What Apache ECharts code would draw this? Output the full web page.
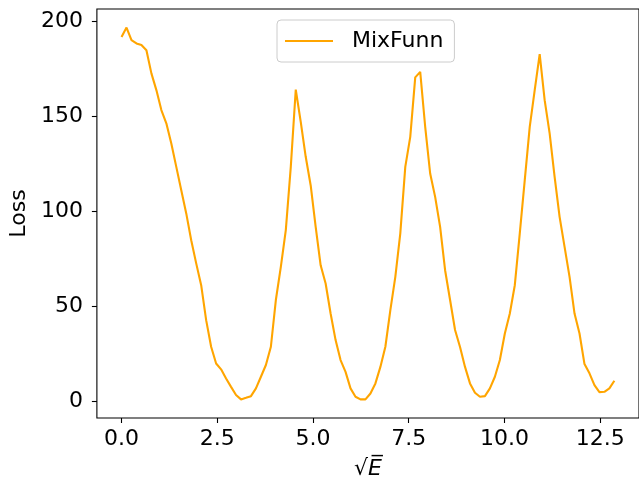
<!DOCTYPE html>
<html>
<head>
<meta charset="utf-8">
<script src="https://cdn.jsdelivr.net/npm/echarts@6/dist/echarts.min.js"></script>
<style>
  html, body { margin: 0; padding: 0; background: #ffffff; }
  #chart { width: 639px; height: 485px; }
</style>
</head>
<body>
<div id="chart"></div>
<script>
// sqrt(E) sample positions
const sqrtE = [
  0.00, 0.13, 0.26, 0.39, 0.52, 0.65, 0.78, 0.91, 1.04, 1.17,
  1.30, 1.43, 1.56, 1.69, 1.82, 1.95, 2.08, 2.21, 2.34, 2.47,
  2.60, 2.73, 2.86, 2.99, 3.12, 3.25, 3.38, 3.51, 3.64, 3.77,
  3.90, 4.03, 4.16, 4.29, 4.42, 4.55, 4.68, 4.81, 4.94, 5.07,
  5.20, 5.33, 5.46, 5.59, 5.72, 5.85, 5.98, 6.11, 6.24, 6.37,
  6.50, 6.63, 6.76, 6.89, 7.02, 7.15, 7.28, 7.41, 7.54, 7.67,
  7.80, 7.93, 8.06, 8.19, 8.32, 8.45, 8.58, 8.71, 8.84, 8.97,
  9.10, 9.23, 9.36, 9.49, 9.62, 9.75, 9.88, 10.01, 10.14, 10.27,
  10.40, 10.53, 10.66, 10.79, 10.92, 11.05, 11.18, 11.31, 11.44, 11.57,
  11.70, 11.83, 11.96, 12.09, 12.22, 12.35, 12.48, 12.61, 12.74, 12.87
];

// MixFunn loss at each sample
const mixFunnLoss = [
  191.7, 196.6, 190.0, 188.3, 187.4, 184.7, 172.5, 163.7, 153.2, 146.2,
  135.6, 123.3, 111.0, 98.8, 84.7, 72.5, 61.0, 42.6, 28.6, 19.8,
  16.7, 11.9, 7.5, 3.2, 0.9, 1.7, 2.6, 6.7, 12.8, 19.0,
  28.6, 53.2, 70.7, 90.0, 123.3, 164.0, 147.0, 128.6, 113.5, 91.7,
  71.5, 61.9, 46.1, 32.1, 21.6, 15.4, 6.7, 2.3, 0.9, 0.9,
  4.0, 9.3, 18.0, 28.6, 47.9, 65.4, 88.3, 123.3, 139.1, 170.4,
  173.3, 144.4, 119.8, 107.5, 91.7, 68.9, 53.2, 37.4, 28.5, 18.0,
  9.3, 4.4, 2.3, 2.6, 6.7, 12.8, 21.6, 35.6, 46.1, 61.0,
  88.3, 116.3, 144.4, 163.7, 182.6, 158.4, 140.9, 118.0, 97.0, 81.2,
  65.4, 46.1, 35.6, 19.5, 14.6, 8.4, 4.7, 4.9, 6.7, 10.7
];

const seriesName = 'MixFunn';
const xTicks = [0, 2.5, 5, 7.5, 10, 12.5];
const yTicks = [0, 50, 100, 150, 200];

const FONT = 'DejaVu Sans';
const FS = 22;
const LINE_COLOR = '#FFA500';

const points = sqrtE.map((x, i) => [x, mixFunnLoss[i]]);

const chart = echarts.init(document.getElementById('chart'), null, { renderer: 'canvas' });
chart.setOption({
  animation: false,
  backgroundColor: '#ffffff',
  textStyle: { fontFamily: FONT },
  grid: {
    left: 93, top: 9, right: -3, bottom: 67,
    show: true, borderColor: '#000000', borderWidth: 1.1,
    backgroundColor: 'transparent'
  },
  legend: {
    // plain line handle, no marker
    data: [{ name: seriesName, icon: 'path://M0,0 L48,0 L48,2 L0,2 Z' }],
    left: 277, top: 20,
    padding: [10, 11, 10, 8],
    backgroundColor: '#ffffff',
    borderColor: '#cccccc', borderWidth: 1, borderRadius: 4,
    itemWidth: 48, itemHeight: 2.2,
    itemStyle: { color: LINE_COLOR },
    textStyle: { fontFamily: FONT, fontSize: FS, color: '#000000', padding: [0, 0, 0, 14] }
  },
  xAxis: {
    type: 'value',
    min: -0.6435, max: 13.5135,
    name: '{s|√}{e|E\u0305}',
    nameLocation: 'middle',
    nameGap: 40,
    nameTextStyle: {
      rich: {
        s: { fontFamily: FONT, fontSize: FS, color: '#000' },
        e: { fontFamily: FONT, fontSize: FS, fontStyle: 'italic', color: '#000' }
      }
    },
    splitLine: { show: false },
    axisLine: { show: false, onZero: false },
    axisTick: { show: true, length: 5, lineStyle: { color: '#000', width: 1.1 }, customValues: xTicks },
    axisLabel: {
      customValues: xTicks, margin: 10,
      fontFamily: FONT, fontSize: FS, color: '#000',
      formatter: v => v.toFixed(1)
    }
  },
  yAxis: {
    type: 'value',
    min: -8.9, max: 206.4,
    name: 'Loss',
    nameLocation: 'middle',
    nameRotate: 90,
    nameGap: 60,
    nameTextStyle: { fontFamily: FONT, fontSize: FS, color: '#000' },
    splitLine: { show: false },
    axisLine: { show: false, onZero: false },
    axisTick: { show: true, length: 5, lineStyle: { color: '#000', width: 1.1 }, customValues: yTicks },
    axisLabel: {
      customValues: yTicks, margin: 14,
      fontFamily: FONT, fontSize: FS, color: '#000'
    }
  },
  series: [{
    name: seriesName,
    type: 'line',
    data: points,
    symbol: 'none',
    smooth: false,
    lineStyle: { color: LINE_COLOR, width: 2.1 },
    itemStyle: { color: LINE_COLOR }
  }]
});
</script>
</body>
</html>
